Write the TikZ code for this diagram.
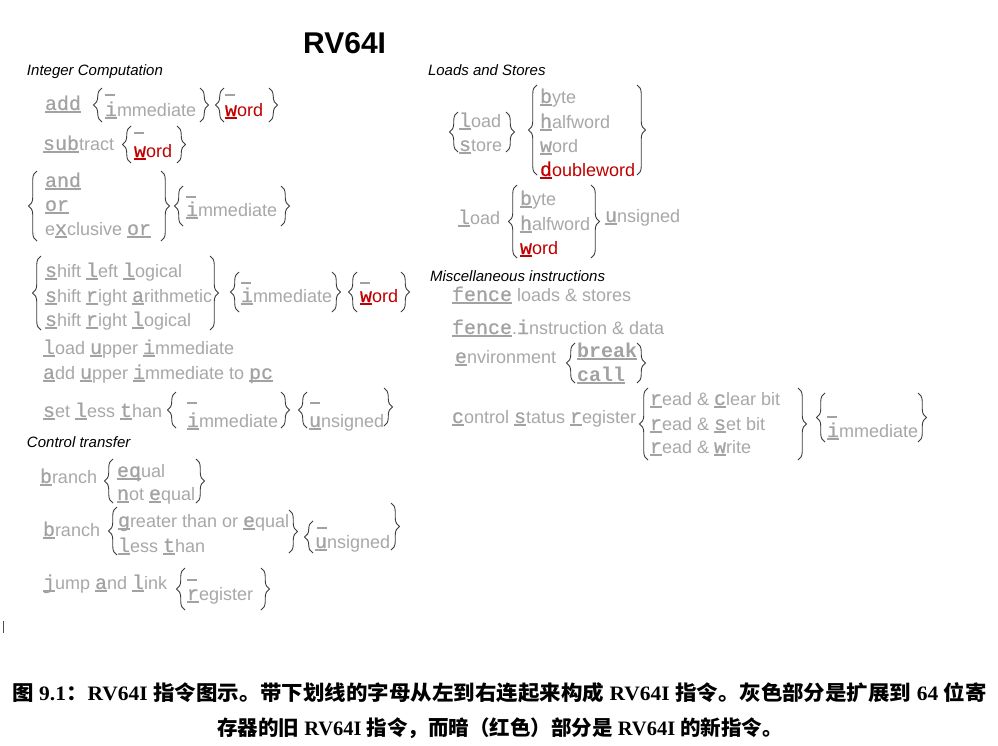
\documentclass[tikz,border=0pt]{standalone}
\usepackage{fontspec}
\setmainfont{Liberation Sans}
\newfontfamily\monof{Liberation Mono}[FakeBold=0.5]
\newfontfamily\monobf{Liberation Mono Bold}
\newfontfamily\cjk{Noto Sans CJK SC}
\newfontfamily\capf{Liberation Serif}
\usetikzlibrary{decorations.pathreplacing}
\definecolor{gtext}{RGB}{168,168,168}
\definecolor{gmono}{RGB}{162,162,162}
\definecolor{rtext}{RGB}{192,0,0}
\definecolor{bracecol}{RGB}{60,60,60}
\newcommand\uu[2][gmono]{{\color{#1}\setbox0=\hbox{\monof\fontsize{20}{24}\selectfont #2}\rlap{\rule[-3pt]{\wd0}{1.6pt}}\box0}}
\newcommand\ub[1]{{\color{gmono}\setbox0=\hbox{\monobf\fontsize{20}{24}\selectfont #1}\rlap{\rule[-3pt]{\wd0}{1.6pt}}\box0}}
\newcommand\mo[1]{{\color{gmono}\monof\fontsize{20}{24}\selectfont #1}}
\newcommand\cj[1]{{\cjk\bfseries #1}}
\tikzset{
  txt/.style={anchor=base west, inner sep=0pt, outer sep=0pt, text=gtext, font=\fontsize{18}{24}\selectfont},
  tr/.style={txt, text=rtext},
  hd/.style={anchor=base west, inner sep=0pt, outer sep=0pt, text=black, font=\itshape\fontsize{15}{18}\selectfont},
  curly/.style={draw=bracecol, line width=0.9pt, decorate, decoration={brace, amplitude=8.5pt}},
  emptyopt/.style={draw=gmono, line width=1.6pt},
  captext/.style={anchor=base, inner sep=0pt, outer sep=0pt, text=black, font=\capf\bfseries\fontsize{20.5}{24}\selectfont},
}
\newcommand\LB[3]{\draw[curly] (#1,#3) -- (#1,#2);}
\newcommand\RB[3]{\draw[curly] (#1,#2) -- (#1,#3);}
\begin{document}
\begin{tikzpicture}[x=1pt,y=-1pt]
\fill[white] (0,0) rectangle (998,745);
\useasboundingbox (0,0) rectangle (998,745);

\node[anchor=base west, inner sep=0pt, font=\bfseries\fontsize{30}{36}\selectfont] (title) at (303,53) {RV64I};

\node[hd] (h1) at (27,75) {Integer Computation};
\node[hd] (h2) at (428,75) {Loads and Stores};
\node[hd] (h3) at (27,447) {Control transfer};
\node[hd] (h4) at (430,281) {Miscellaneous instructions};

% add
\node[txt] (add) at (45,110) {\uu{add}};
\LB{102}{88}{122}
\draw[emptyopt] (105,95) -- ++(10,0);
\node[txt] (addi) at (105,116) {\uu{i}mmediate};
\RB{200}{88}{122}
\LB{224}{88}{122}
\draw[emptyopt] (225,95) -- ++(10,0);
\node[tr] (addw) at (225,116) {\uu[rtext]{w}ord};
\RB{269}{88}{122}
% subtract
\node[txt] (sub) at (43,150) {\uu{sub}tract};
\LB{131}{126}{163}
\draw[emptyopt] (134,133) -- ++(10,0);
\node[tr] (subw) at (134,157) {\uu[rtext]{w}ord};
\RB{177}{126}{163}
% logic
\LB{37}{171}{241}
\node[txt] (and) at (45,187) {\uu{and}};
\node[txt] (or) at (45,211) {\uu{or}};
\node[txt] (xor) at (45,235) {e\uu{x}clusive \uu{or}};
\RB{161}{171}{241}
\LB{183}{186}{226}
\draw[emptyopt] (186,197) -- ++(10,0);
\node[txt] (logi) at (186,216) {\uu{i}mmediate};
\RB{281}{186}{226}
% shifts
\LB{41}{256}{330}
\node[txt] (sll) at (45,277) {\uu{s}hift \uu{l}eft \uu{l}ogical};
\node[txt] (sra) at (45,302) {\uu{s}hift \uu{r}ight \uu{a}rithmetic};
\node[txt] (srl) at (45,326) {\uu{s}hift \uu{r}ight \uu{l}ogical};
\RB{210}{256}{330}
\LB{239}{272}{312}
\draw[emptyopt] (241,283) -- ++(10,0);
\node[txt] (shi) at (241,302) {\uu{i}mmediate};
\RB{332}{272}{312}
\LB{357}{272}{312}
\draw[emptyopt] (360,283) -- ++(10,0);
\node[tr] (shw) at (360,302) {\uu[rtext]{w}ord};
\RB{401}{272}{312}
% lui auipc slt
\node[txt] (lui) at (43,354) {\uu{l}oad \uu{u}pper \uu{i}mmediate};
\node[txt] (auipc) at (43,379) {\uu{a}dd \uu{u}pper \uu{i}mmediate to \uu{pc}};
\node[txt] (slt) at (43,417) {\uu{s}et \uu{l}ess \uu{t}han};
\LB{176}{392}{428}
\draw[emptyopt] (187,403) -- ++(10,0);
\node[txt] (slti) at (187,427) {\uu{i}mmediate};
\RB{281}{392}{428}
\LB{307}{392}{428}
\draw[emptyopt] (310,403) -- ++(10,0);
\node[txt] (sltu) at (309,427) {\uu{u}nsigned};
\RB{384}{388}{426}
% control transfer
\node[txt] (br1) at (40,483) {\uu{b}ranch};
\LB{113}{459}{503}
\node[txt] (beq) at (117,477) {\uu{eq}ual};
\node[txt] (bne) at (117,500) {\uu{n}ot \uu{e}qual};
\RB{196}{459}{503}
\node[txt] (br2) at (43,536) {\uu{b}ranch};
\LB{117}{507}{555}
\node[txt] (bge) at (118,527) {\uu{g}reater than or \uu{e}qual};
\node[txt] (blt) at (118,552) {\uu{l}ess \uu{t}han};
\RB{289}{510}{553}
\LB{313}{521}{553}
\draw[emptyopt] (317,528) -- ++(10,0);
\node[txt] (bu) at (315,548) {\uu{u}nsigned};
\RB{391}{503}{550}
\node[txt] (jal) at (43,589) {\uu{j}ump \uu{a}nd \uu{l}ink};
\LB{185}{568}{610}
\draw[emptyopt] (187,580) -- ++(10,0);
\node[txt] (jalr) at (187,600) {\uu{r}egister};
\RB{261}{568}{610}
% loads and stores
\LB{458}{112}{152}
\node[txt] (ld) at (459,127) {\uu{l}oad};
\node[txt] (st) at (459,151) {\uu{s}tore};
\RB{506}{112}{152}
\LB{537}{85}{175}
\node[txt] (lb) at (540,103) {\uu{b}yte};
\node[txt] (lh) at (540,128) {\uu{h}alfword};
\node[txt] (lw) at (540,152) {\uu{w}ord};
\node[tr] (ldd) at (540,176) {\uu[rtext]{d}oubleword};
\RB{637}{85}{175}
\node[txt] (ldu) at (458,224) {\uu{l}oad};
\LB{517}{185}{258}
\node[txt] (lbu) at (520,205) {\uu{b}yte};
\node[txt] (lhu) at (520,230) {\uu{h}alfword};
\node[tr] (lwu) at (520,254) {\uu[rtext]{w}ord};
\RB{591}{185}{258}
\node[txt] (uns) at (605,222) {\uu{u}nsigned};
% misc
\node[txt] (fence) at (452,301) {\uu{fence} loads \& stores};
\node[txt] (fencei) at (452,334) {\uu{fence}.\mo{i}nstruction \& data};
\node[txt] (env) at (455,363) {\uu{e}nvironment};
\LB{575}{343}{383}
\node[txt] (ebreak) at (577,357) {\ub{break}};
\node[txt] (ecall) at (577,381) {\ub{call}};
\RB{637}{343}{383}
\node[txt] (csr) at (452,423) {\uu{c}ontrol \uu{s}tatus \uu{r}egister};
\LB{648}{388}{460}
\node[txt] (csrc) at (650,405) {\uu{r}ead \& \uu{c}lear bit};
\node[txt] (csrs) at (650,430) {\uu{r}ead \& \uu{s}et bit};
\node[txt] (csrw) at (650,453) {\uu{r}ead \& \uu{w}rite};
\RB{798}{388}{460}
\LB{825}{393}{442}
\draw[emptyopt] (827,417) -- ++(10,0);
\node[txt] (csri) at (827,437) {\uu{i}mmediate};
\RB{918}{393}{442}

\draw[line width=1.3pt, draw=black!70] (3.5,621) -- (3.5,633);

\node[captext] (cap1) at (499.5,700) {\scalebox{1.048}[1]{\cj{图} 9.1\cj{：}RV64I \cj{指令图示。带下划线的字母从左到右连起来构成} RV64I \cj{指令。灰色部分是扩展到} 64 \cj{位寄}}};
\node[captext] (cap2) at (500,735) {\cj{存器的旧} RV64I \cj{指令，而暗（红色）部分是} RV64I \cj{的新指令。}};
\end{tikzpicture}
\end{document}
